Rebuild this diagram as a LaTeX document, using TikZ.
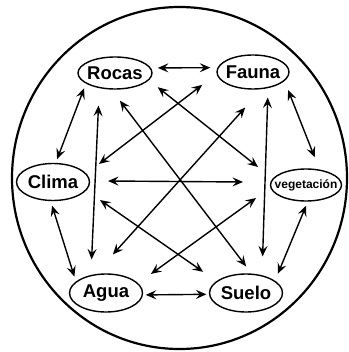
\documentclass[tikz,border=0pt]{standalone}
\usepackage{fontspec}
\setmainfont{Liberation Sans}
\usetikzlibrary{shapes.geometric,arrows.meta}

\begin{document}
\begin{tikzpicture}[x=1pt, y=-1pt, thick,
	factor/.style={ellipse, draw=black, line width=1.4pt, inner xsep=-9pt, inner ysep=-7pt, font=\fontsize{18.5}{20}\selectfont\bfseries},
	link/.style={{Stealth[length=10.5pt,width=9pt,inset=4pt]}-{Stealth[length=10.5pt,width=9pt,inset=4pt]}, line width=1.4pt}]

	\useasboundingbox (0,0) rectangle (348,352);

	% Frame
	\draw[line width=2.2pt] (179.5,178) ellipse [x radius=167.5pt, y radius=171pt];

	% Nodes
	\node[factor, minimum width=74pt, minimum height=32pt] (Rocas) at (115,73) {Rocas};
	\node[factor, minimum width=72pt, minimum height=34pt] (Fauna) at (253,72) {Fauna};
	\node[factor, minimum width=73pt, minimum height=37pt] (Clima) at (53,182) {Clima};
	\node[factor, minimum width=71pt, minimum height=32pt, font=\fontsize{12}{14}\selectfont\bfseries] (Veg) at (306,185) {vegetación};
	\node[factor, minimum width=73pt, minimum height=38pt] (Agua) at (106,293) {Agua};
	\node[factor, minimum width=73pt, minimum height=38pt] (Suelo) at (246,293) {Suelo};

	% Free ends
	\coordinate (veg-in) at (258,167);
	\coordinate (clima-in) at (99,164);
	\coordinate (mid-l) at (108,181);
	\coordinate (mid-r) at (243,182);
	\coordinate (clima-lo) at (100,200);
	\coordinate (veg-lo) at (256,198);

	% Relations
	\draw[link, shorten <=6.9pt, shorten >=7.1pt] (Rocas.8) -- (Fauna.173);
	\draw[link, shorten <=5pt, shorten >=3.9pt] (Rocas.200) -- (Clima.82);
	\draw[link, shorten <=17.4pt, shorten >=15.6pt] (Rocas.224) -- (Agua.130);
	\draw[link, shorten <=13.9pt, shorten >=9pt] (Rocas.258) -- (Suelo.74);
	\draw[link, shorten <=11.2pt] (Rocas.348) -- (veg-in);
	\draw[link, shorten <=18pt] (Fauna.183) -- (clima-in);
	\draw[link, shorten <=24.7pt, shorten >=26.5pt] (Fauna.297) -- (Agua.120);
	\draw[link, shorten <=9.4pt, shorten >=18.8pt] (Fauna.313) -- (Suelo.48);
	\draw[link, shorten <=9.7pt, shorten >=13pt] (Fauna.344) -- (Veg.49);
	\draw[link] (mid-l) -- (mid-r);
	\draw[link, shorten <=4.7pt, shorten >=5pt] (Clima.263) -- (Agua.159);
	\draw[link, shorten >=16.2pt] (clima-lo) -- (Suelo.158);
	\draw[link, shorten >=15.7pt] (veg-lo) -- (Agua.17);
	\draw[link, shorten <=4.3pt, shorten >=7.5pt] (Veg.276) -- (Suelo.23);
	\draw[link, shorten <=2.7pt, shorten >=2.5pt] (Agua.357) -- (Suelo.182);
\end{tikzpicture}
\end{document}
